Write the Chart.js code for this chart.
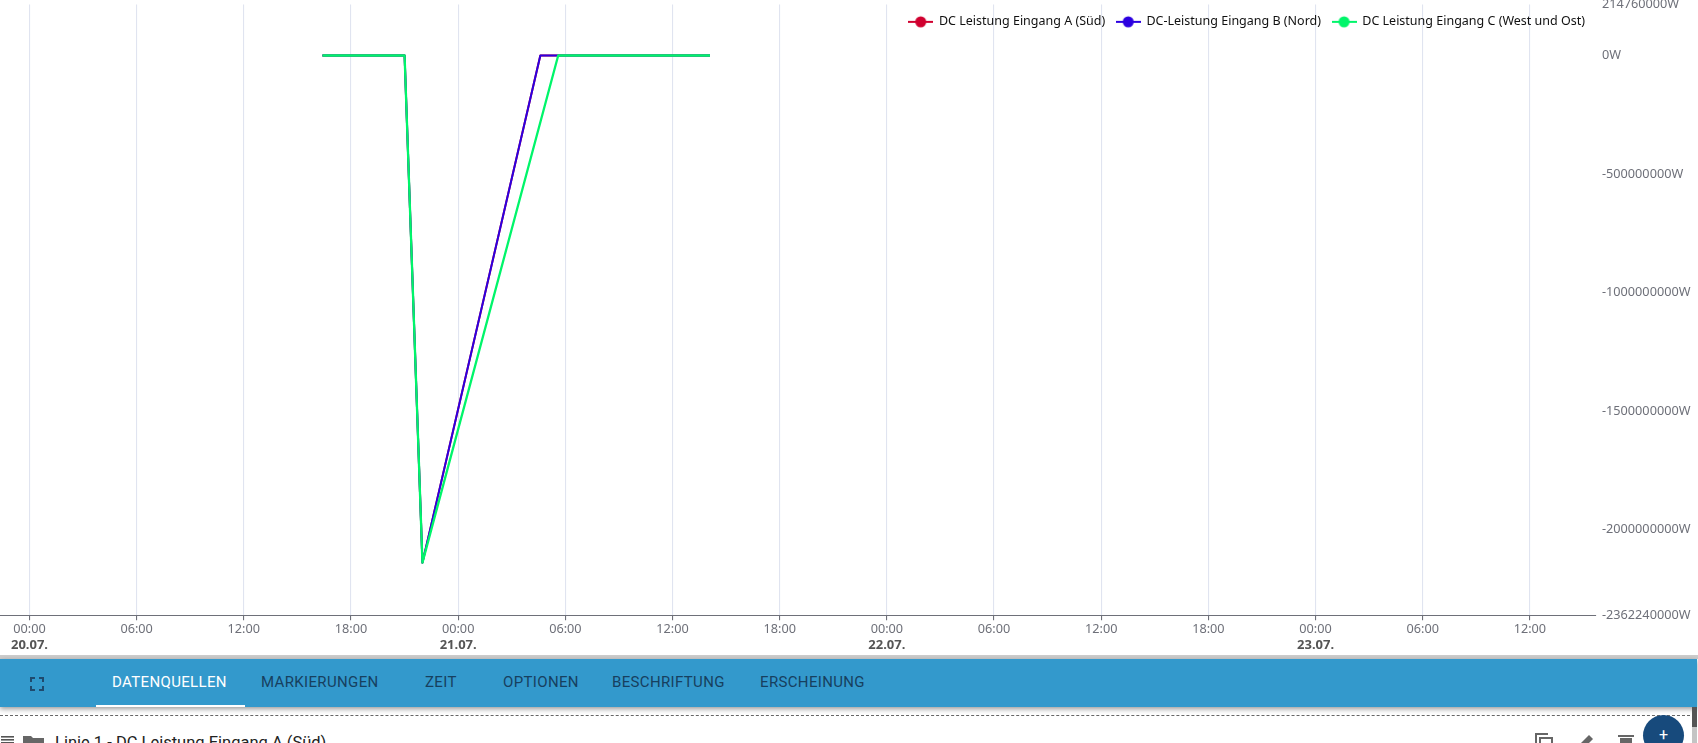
<!DOCTYPE html>
<html lang="de">
<head>
<meta charset="UTF-8">
<title>DC Leistung</title>
<script src="https://cdn.jsdelivr.net/npm/chart.js"></script>
<style>
  html, body { margin: 0; padding: 0; width: 1698px; height: 743px; overflow: hidden; background: #fff; font-family: "Noto Sans", sans-serif; }
  #chartBox { position: absolute; left: 0; top: -9px; width: 1698px; height: 661px; }
  #divider { position: absolute; left: 0; top: 655px; width: 1698px; height: 4px; background: #cccccc; }
  #tabbar { position: absolute; left: 0; top: 659px; width: 1697px; height: 48px; background: #3399cc; box-shadow: 0 2px 5px rgba(0,0,0,.4); }
  #tabbar span { position: absolute; top: 0; font: 15px/46px Roboto, sans-serif; color: #17405f; letter-spacing: .35px; }
  #tabbar span.on { color: #fff; }
  #tabline { position: absolute; left: 96px; top: 46px; width: 149px; height: 2px; background: #fff; }
  #dash { position: absolute; left: 0; top: 715px; width: 1690px; border-top: 1px dashed #666; }
  #row { position: absolute; left: 55px; top: 734px; font: 16.5px/18px Roboto, sans-serif; color: #222; white-space: nowrap; }
  #fab { position: absolute; left: 1643px; top: 715px; width: 41px; height: 41px; border-radius: 50%; background: #174a7c; color: #fff; font: 16px/40px Roboto, sans-serif; text-align: center; }
  #scroll { position: absolute; left: 1692px; top: 707px; width: 5px; height: 36px; background: #c4c4c4; }
  #thumb { position: absolute; left: 1692px; top: 707px; width: 5px; height: 20px; background: #555; }
  svg { position: absolute; }
</style>
</head>
<body>
<div id="chartBox"><canvas id="myChart"></canvas></div>
<div id="divider"></div>
<div id="tabbar">
  <svg style="left:30px;top:18px" width="14" height="14" viewBox="0 0 14 14" fill="none" stroke="#1f4a6e" stroke-width="2"><path d="M1 5V1H5M9 1H13V5M13 9V13H9M5 13H1V9"/></svg>
  <span class="on" style="left:112px">DATENQUELLEN</span>
  <span style="left:261px">MARKIERUNGEN</span>
  <span style="left:425px">ZEIT</span>
  <span style="left:503px">OPTIONEN</span>
  <span style="left:612px">BESCHRIFTUNG</span>
  <span style="left:760px">ERSCHEINUNG</span>
  <div id="tabline"></div>
</div>
<div id="dash"></div>
<svg style="left:1px;top:736px" width="13" height="7" fill="#555"><rect width="13" height="1.6"/><rect y="3" width="13" height="1.6"/><rect y="6" width="13" height="1"/></svg>
<svg style="left:23px;top:736px" width="21" height="7" fill="#666"><path d="M0 0H8L10 2H21V7H0Z"/></svg>
<div id="row">Linie 1 - DC Leistung Eingang A (Süd)</div>
<svg style="left:1535px;top:733px" width="20" height="10" fill="none" stroke="#666" stroke-width="2"><path d="M1 10V1H13M5 10V5H17V10"/></svg>
<svg style="left:1581px;top:735px" width="15" height="8" fill="#666"><path d="M0 8L8 0L12 4L8 8Z"/></svg>
<svg style="left:1618px;top:735px" width="16" height="8" fill="#666"><rect y="0" width="16" height="2"/><rect x="2" y="3" width="12" height="5"/></svg>
<div id="scroll"></div><div id="thumb"></div>
<div id="fab">+</div>

<script>
  // hours since 20.07. 00:00
  const timeHours = [16.4, 21.0, 22.0, 28.6, 29.6, 38.1];
  const seriesA = [0, 0, -2140000000, 0, 0, 0];
  const seriesB = [0, 0, -2140000000, 0, 0, 0];
  const seriesC = [0, 0, -2140000000, null, 0, 0];
  const seriesNames = ["DC Leistung Eingang A (Süd)", "DC-Leistung Eingang B (Nord)", "DC Leistung Eingang C (West und Ost)"];
  const seriesColors = ["#d0002f", "#2c00e0", "#00f56a"];
  const seriesWidths = [2, 2, 2.3];
  const yTicks = [214760000, 0, -500000000, -1000000000, -1500000000, -2000000000, -2362240000];
  const dayLabels = ["20.07.", "21.07.", "22.07.", "23.07."];
  const xMin = -1.65, xMax = 87.7;

  const axisColor = "#6e7079";

  // legend marker: short line with a dot
  function marker(color) {
    const c = document.createElement("canvas");
    c.width = 25; c.height = 14;
    const g = c.getContext("2d");
    g.strokeStyle = color; g.fillStyle = color; g.lineWidth = 2;
    g.beginPath(); g.moveTo(0, 7); g.lineTo(25, 7); g.stroke();
    g.beginPath(); g.arc(12.5, 7, 5.5, 0, Math.PI * 2); g.fill();
    return c;
  }

  function toPoints(values) {
    return timeHours.map((h, i) => ({ x: h, y: values[i] })).filter(p => p.y !== null);
  }

  const datasets = [seriesA, seriesB, seriesC].map((values, i) => ({
    label: seriesNames[i],
    data: toPoints(values),
    borderColor: seriesColors[i],
    backgroundColor: seriesColors[i],
    borderWidth: seriesWidths[i],
    borderJoinStyle: "round",
    pointRadius: 0,
    pointStyle: marker(seriesColors[i]),
    tension: 0,
    order: 3 - i
  }));

  // the legend sits on top of the plot, so it must not take layout height
  const overlayLegend = {
    id: "overlayLegend",
    beforeInit(chart) {
      const legend = chart.legend;
      const fit = legend.fit, draw = legend.draw;
      legend.fit = function () { fit.call(this); this.fullHeight = this.height; this.height = 0; };
      legend.draw = function () { this.bottom = this.top + this.fullHeight; draw.call(this); };
    }
  };

  const ctx = document.getElementById("myChart").getContext("2d");
  const myChart = new Chart(ctx, {
    type: "line",
    data: { datasets: datasets },
    plugins: [overlayLegend],
    options: {
      responsive: true,
      maintainAspectRatio: false,
      animation: false,
      scales: {
        x: {
          type: "linear", position: "bottom", min: xMin, max: xMax,
          afterBuildTicks: s => { s.ticks = []; for (let h = 0; h <= xMax; h += 6) s.ticks.push({ value: h }); },
          grid: { color: "#e0e4f0", lineWidth: 1.1, tickLength: 5, tickColor: axisColor, drawTicks: true },
          border: { color: axisColor, width: 1.1 },
          ticks: {
            color: axisColor, font: { family: "'Noto Sans'", size: 12.7, lineHeight: 1 }, padding: 3, maxRotation: 0, autoSkip: false,
            callback: v => String(v % 24).padStart(2, "0") + ":00"
          }
        },
        days: {
          type: "linear", position: "bottom", min: xMin, max: xMax,
          afterBuildTicks: s => { s.ticks = dayLabels.map((d, i) => ({ value: i * 24 })); },
          grid: { display: false, drawTicks: false },
          border: { display: false },
          ticks: {
            color: "#555", font: { family: "'Noto Sans'", size: 13, weight: "bold", lineHeight: 1 }, padding: 0, maxRotation: 0, autoSkip: false,
            callback: v => dayLabels[v / 24]
          }
        },
        y: {
          type: "linear", position: "right", min: yTicks[yTicks.length - 1], max: yTicks[0],
          afterBuildTicks: s => { s.ticks = yTicks.map(v => ({ value: v })); },
          grid: { display: false, drawTicks: false },
          border: { display: false },
          ticks: { color: axisColor, font: { family: "'Noto Sans'", size: 12.7 }, padding: 6, autoSkip: false, callback: v => v + "W" },
          afterFit: s => { s.width = 102; }
        }
      },
      plugins: {
        tooltip: { enabled: false },
        legend: {
          position: "top", align: "end", fullSize: false, padding: 0,
          labels: {
            usePointStyle: true, pointStyleWidth: 24, padding: 11, color: "#111",
            font: { family: "'Noto Sans'", size: 12.5 },
            sort: (a, b) => a.datasetIndex - b.datasetIndex
          }
        }
      }
    }
  });
</script>
</body>
</html>
